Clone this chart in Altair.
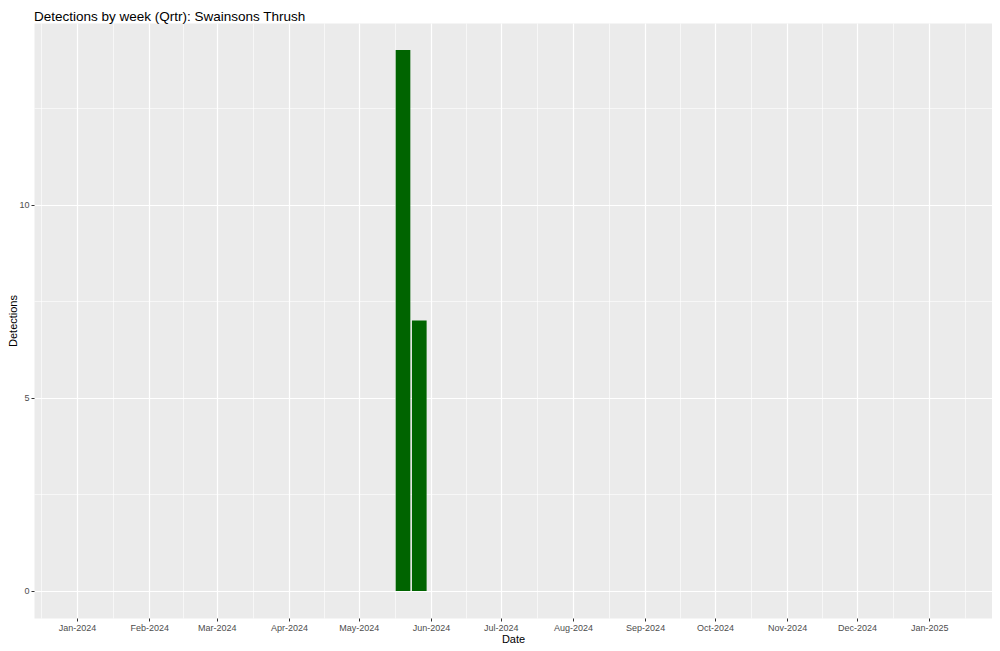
import altair as alt
import pandas as pd

# ---- data ----
week_start = ["2024-05-20", "2024-05-27"]
detections = [14, 7]

title_text = "Detections by week (Qrtr): Swainsons Thrush"
x_domain = ["2023-12-13T12:00:00", "2025-01-28T00:00:00"]
y_domain = [-0.7, 14.7]
y_breaks = [0, 2.5, 5, 7.5, 10, 12.5]

DAY_MS = 86400000
def ms(s):
    return int(pd.Timestamp(s, tz="UTC").value // 1_000_000)

wk = [ms(w) for w in week_start]
df = pd.DataFrame({
    "week": wk,
    "start": [w - 3.15 * DAY_MS for w in wk],
    "end": [w + 3.15 * DAY_MS for w in wk],
    "n": detections,
    "base": [0] * len(wk),
})

majors = pd.date_range("2024-01-01", "2025-01-01", freq="MS", tz="UTC")
all_m = pd.date_range("2023-12-01", "2025-02-01", freq="MS", tz="UTC")
minors = [all_m[i] + (all_m[i + 1] - all_m[i]) / 2 for i in range(len(all_m) - 1)]
x_vals = sorted([int(t.value // 1_000_000) for t in majors] + [int(t.value // 1_000_000) for t in minors])
x_vals = [v for v in x_vals if ms(x_domain[0]) <= v <= ms(x_domain[1])]

FONT = "Liberation Sans"
is_major_x = "utcdate(datum.value) == 1"
is_major_y = "datum.value % 5 == 0"

x_axis = alt.Axis(
    title="Date",
    values=x_vals,
    labelExpr=f"{is_major_x} ? utcFormat(datum.value, '%b-%Y') : ''",
    labelOverlap=False,
    labelFlush=False,
    labelBound=False,
    labelFontSize=9,
    labelColor="#4D4D4D",
    labelPadding=2,
    titleFontSize=11,
    titleFontWeight="normal",
    titleColor="black",
    titlePadding=1,
    domain=False,
    grid=True,
    gridColor="white",
    gridWidth={"condition": {"test": is_major_x, "value": 1.2}, "value": 0.6},
    tickColor="#333333",
    tickSize=3,
    tickWidth=1,
    tickOpacity={"condition": {"test": is_major_x, "value": 1}, "value": 0},
)

y_axis = alt.Axis(
    title="Detections",
    values=y_breaks,
    labelExpr=f"{is_major_y} ? datum.label : ''",
    labelFontSize=9,
    labelColor="#4D4D4D",
    labelPadding=2,
    titleFontSize=11,
    titleFontWeight="normal",
    titleColor="black",
    titlePadding=0,
    domain=False,
    grid=True,
    gridColor="white",
    gridWidth={"condition": {"test": is_major_y, "value": 1.2}, "value": 0.6},
    tickColor="#333333",
    tickSize=3,
    tickWidth=1,
    tickOpacity={"condition": {"test": is_major_y, "value": 1}, "value": 0},
)

chart = (
    alt.Chart(df)
    .mark_bar(color="#006400")
    .encode(
        x=alt.X("start:T", axis=x_axis,
                scale=alt.Scale(type="utc", domain=[ms(d) for d in x_domain], nice=False)),
        x2="end:T",
        y=alt.Y("n:Q", axis=y_axis, scale=alt.Scale(domain=y_domain, nice=False, zero=False)),
        y2="base:Q",
    )
    .properties(
        width=958,
        height=595,
        title=alt.TitleParams(title_text, anchor="start", frame="group", fontSize=13.5,
                              fontWeight="normal", font=FONT, color="black", offset=4, dy=4),
        autosize=alt.AutoSizeParams(type="none"),
        padding={"left": 26, "top": 15, "right": 0, "bottom": 25},
    )
    .configure(font=FONT)
    .configure_view(fill="#EBEBEB", stroke="transparent")
)

chart.save("out.html", embed_options={"renderer": "svg", "actions": False})
